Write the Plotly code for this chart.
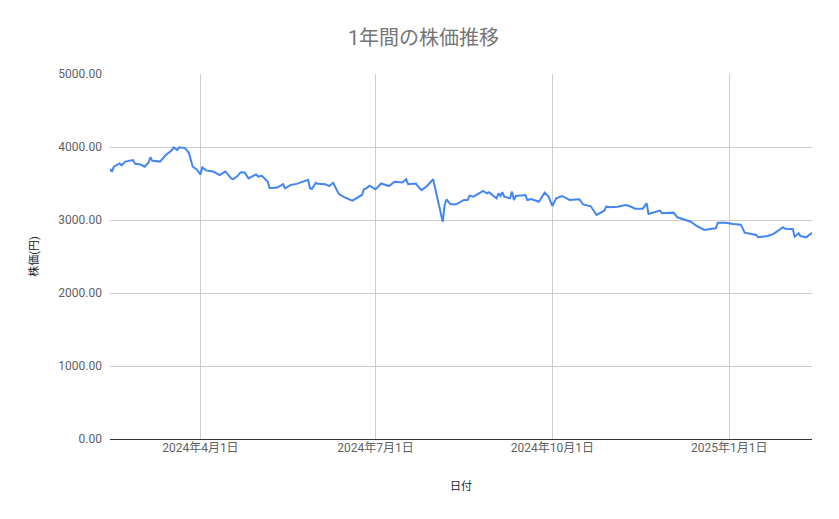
import plotly.graph_objects as go

# daily closing prices
dates = [
    "2024-02-14", "2024-02-15", "2024-02-16", "2024-02-19", "2024-02-20", "2024-02-22",
    "2024-02-26", "2024-02-27", "2024-03-01", "2024-03-03", "2024-03-05", "2024-03-06",
    "2024-03-07", "2024-03-11", "2024-03-14", "2024-03-17", "2024-03-18", "2024-03-20",
    "2024-03-21", "2024-03-24", "2024-03-26", "2024-03-28", "2024-03-30", "2024-04-01",
    "2024-04-02", "2024-04-04", "2024-04-08", "2024-04-11", "2024-04-14", "2024-04-17",
    "2024-04-18", "2024-04-20", "2024-04-22", "2024-04-24", "2024-04-26", "2024-04-29",
    "2024-04-30", "2024-05-01", "2024-05-03", "2024-05-06", "2024-05-07", "2024-05-11",
    "2024-05-14", "2024-05-15", "2024-05-18", "2024-05-21", "2024-05-24", "2024-05-27",
    "2024-05-28", "2024-05-29", "2024-05-31", "2024-06-01", "2024-06-05", "2024-06-07",
    "2024-06-09", "2024-06-12", "2024-06-15", "2024-06-19", "2024-06-24", "2024-06-25",
    "2024-06-26", "2024-06-28", "2024-07-01", "2024-07-04", "2024-07-08", "2024-07-11",
    "2024-07-15", "2024-07-17", "2024-07-18", "2024-07-22", "2024-07-24", "2024-07-25",
    "2024-07-28", "2024-07-29", "2024-07-31", "2024-08-05", "2024-08-06", "2024-08-07",
    "2024-08-09", "2024-08-12", "2024-08-16", "2024-08-18", "2024-08-19", "2024-08-21",
    "2024-08-26", "2024-08-28", "2024-08-29", "2024-09-02", "2024-09-03", "2024-09-04",
    "2024-09-05", "2024-09-06", "2024-09-09", "2024-09-10", "2024-09-11", "2024-09-12",
    "2024-09-17", "2024-09-18", "2024-09-20", "2024-09-24", "2024-09-27", "2024-09-29",
    "2024-10-01", "2024-10-03", "2024-10-06", "2024-10-10", "2024-10-15", "2024-10-17",
    "2024-10-21", "2024-10-24", "2024-10-28", "2024-10-29", "2024-10-31", "2024-11-04",
    "2024-11-08", "2024-11-10", "2024-11-13", "2024-11-17", "2024-11-19", "2024-11-20",
    "2024-11-23", "2024-11-26", "2024-11-27", "2024-11-30", "2024-12-03", "2024-12-05",
    "2024-12-09", "2024-12-12", "2024-12-15", "2024-12-19", "2024-12-22", "2024-12-25",
    "2024-12-26", "2024-12-30", "2025-01-03", "2025-01-07", "2025-01-09", "2025-01-15",
    "2025-01-16", "2025-01-18", "2025-01-21", "2025-01-24", "2025-01-28", "2025-01-29",
    "2025-01-30", "2025-02-03", "2025-02-04", "2025-02-06", "2025-02-07", "2025-02-10",
    "2025-02-13",
]
prices = [
    3700, 3660, 3730, 3775, 3750, 3800,
    3820, 3770, 3760, 3730, 3785, 3860,
    3810, 3800, 3890, 3950, 3995, 3960,
    3995, 3985, 3920, 3730, 3695, 3625,
    3720, 3680, 3660, 3615, 3665, 3570,
    3560, 3595, 3655, 3650, 3570, 3605,
    3625, 3595, 3605, 3525, 3435, 3445,
    3490, 3435, 3480, 3495, 3525, 3550,
    3435, 3425, 3510, 3495, 3490, 3465,
    3510, 3355, 3310, 3265, 3343, 3420,
    3430, 3470, 3420, 3500, 3465, 3525,
    3515, 3558, 3490, 3500, 3435, 3410,
    3470, 3500, 3558, 2975, 3206, 3284,
    3215, 3215, 3274, 3274, 3334, 3320,
    3398, 3366, 3380, 3297, 3366, 3329,
    3380, 3320, 3297, 3389, 3274, 3329,
    3343, 3274, 3288, 3251, 3375, 3320,
    3192, 3297, 3329, 3275, 3284, 3213,
    3188, 3069, 3128, 3183, 3174, 3183,
    3206, 3192, 3155, 3155, 3229, 3083,
    3106, 3128, 3092, 3092, 3101, 3037,
    3000, 2977, 2918, 2863, 2877, 2886,
    2963, 2963, 2945, 2936, 2826, 2795,
    2763, 2772, 2781, 2809, 2886, 2900,
    2881, 2877, 2772, 2818, 2781, 2763,
    2826,
]

tick_dates = ["2024-04-01", "2024-07-01", "2024-10-01", "2025-01-01"]
tick_labels = ["2024年4月1日", "2024年7月1日", "2024年10月1日", "2025年1月1日"]

font = "Roboto, 'Noto Sans CJK JP', sans-serif"

fig = go.Figure()
fig.add_trace(go.Scatter(x=dates, y=prices, mode="lines",
                         line=dict(color="#4285f4", width=2)))

# page body adds an 8px margin, so the figure is a little smaller than the window
fig.update_layout(
    width=831, height=511,
    margin=dict(l=102, r=27, t=66, b=80),
    paper_bgcolor="white", plot_bgcolor="white",
    showlegend=False,
    font=dict(family=font, color="#444444", size=12),
    title=dict(text="1年間の株価推移", x=0.5, xanchor="center", y=0.941, yanchor="middle",
               font=dict(size=20, color="#757575", family=font)),
)
fig.update_xaxes(
    range=["2024-02-14", "2025-02-13"],
    tickvals=tick_dates, ticktext=tick_labels,
    showgrid=True, gridcolor="#cccccc", gridwidth=1,
    showline=False, zeroline=False, ticks="",
    tickfont=dict(size=12, color="#5f5f5f"),
    title=dict(text="日付", font=dict(size=11, color="#222222"), standoff=28),
)
fig.update_yaxes(
    range=[0, 5000], dtick=1000, tickformat=".2f",
    showgrid=True, gridcolor="#cccccc", gridwidth=1,
    zeroline=True, zerolinecolor="#333333", zerolinewidth=1,
    showline=False, ticks="",
    tickfont=dict(size=12, color="#5f5f5f"),
    ticklabelstandoff=7,
    title=dict(text="株価(円)", font=dict(size=11, color="#222222"), standoff=17),
)

fig.write_html("out.html")
